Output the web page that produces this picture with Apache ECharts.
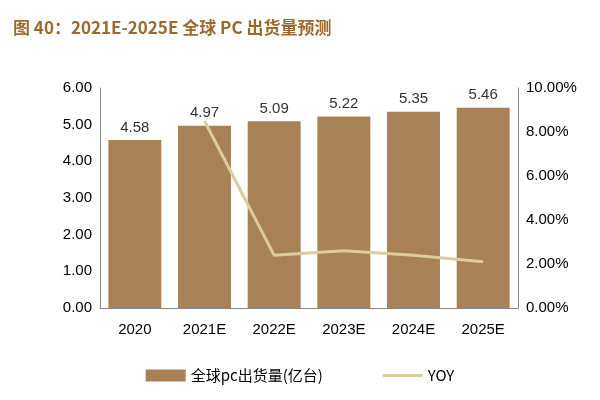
<!DOCTYPE html><html><head><meta charset="utf-8"><script src="https://cdn.jsdelivr.net/npm/echarts@6/dist/echarts.min.js"></script></head><body style="margin:0"><div id="c" style="width:600px;height:400px"></div><script>
const categories=['2020','2021E','2022E','2023E','2024E','2025E'];
const shipments=[4.58,4.97,5.09,5.22,5.35,5.46];
const yoy=[null,8.5,2.4,2.6,2.4,2.1];
const c=echarts.init(document.getElementById('c'));
c.setOption({
title:{text:'图 40：2021E-2025E 全球 PC 出货量预测',left:8,top:14,textStyle:{color:'#9b6a2f',fontSize:17,fontWeight:'bold',fontFamily:'Noto Sans CJK SC'}},
grid:{left:100,right:82,top:88,bottom:92},
legend:{bottom:12,itemGap:60,textStyle:{fontSize:15,color:'#000',fontFamily:'Noto Sans CJK SC'},data:[{name:'全球pc出货量(亿台)',icon:'rect'},{name:'YOY',icon:'path://M0,0H40V3H0Z'}],itemWidth:40,itemHeight:12},
xAxis:{type:'category',data:categories,axisTick:{show:false},axisLine:{lineStyle:{color:'#888'}},axisLabel:{fontSize:15,color:'#000',margin:14,fontFamily:'Liberation Sans'}},
yAxis:[{type:'value',min:0,max:6,interval:1,splitLine:{show:false},axisLine:{show:true,lineStyle:{color:'#888'}},axisLabel:{fontSize:15,color:'#000',formatter:v=>v.toFixed(2),fontFamily:'Liberation Sans'}},
{type:'value',min:0,max:10,interval:2,splitLine:{show:false},axisLine:{show:true,lineStyle:{color:'#888'}},axisLabel:{fontSize:15,color:'#000',formatter:v=>v.toFixed(2)+'%',fontFamily:'Liberation Sans'}}],
series:[{name:'全球pc出货量(亿台)',type:'bar',data:shipments,barWidth:'76%',itemStyle:{color:'#a88156'},label:{show:true,position:'top',fontSize:15,color:'#333',formatter:p=>p.value.toFixed(2),fontFamily:'Liberation Sans'}},
{name:'YOY',type:'line',yAxisIndex:1,data:yoy,symbol:'none',lineStyle:{color:'#dccb9e',width:3},itemStyle:{color:'#dccb9e'}}]
});
</script></body></html>
